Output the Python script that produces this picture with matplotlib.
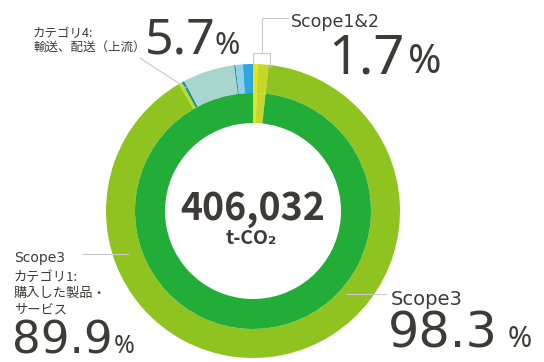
import matplotlib
matplotlib.use("Agg")
import matplotlib.pyplot as plt

plt.rcParams['font.family'] = ['Noto Sans CJK JP', 'DejaVu Sans']

# 内側リング: Scope1, Scope2, Scope3
inner_labels = ["Scope1", "Scope2", "Scope3"]
inner_values = [0.5, 1.2, 98.3]
inner_colors = ["#e2e41c", "#c3d82b", "#22ac38"]

# 外側リング: Scope1, Scope2, Scope3 カテゴリ別（時計回り）
outer_labels = ["Scope1", "Scope2", "カテゴリ1", "その他a", "その他b",
                "カテゴリ4", "その他c", "その他d", "その他e"]
outer_values = [0.5, 1.2, 89.9, 0.35, 0.3, 5.7, 0.15, 0.8, 1.1]
outer_colors = ["#e2e41c", "#c3d82b", "#8fc31f", "#c3d82b", "#129a8c",
                "#a8d6ce", "#129a8c", "#8fd0ef", "#2ea7e0"]

total_text = "406,032"
unit_text = "t-CO₂"
pct_cat4 = "5.7"
pct_scope12 = "1.7"
pct_cat1 = "89.9"
pct_scope3 = "98.3"

W, H = 544, 362
TXT = "#3e3a39"
LINE = "#c9c9c9"
LAT = ['Noto Sans', 'Noto Sans CJK JP']
WIDE = ['DejaVu Sans']

fig = plt.figure(figsize=(W / 100, H / 100), dpi=100)
ax = fig.add_axes([0, 0, 1, 1])


def Y(y):
    return H - y


cx, cy = 253, Y(211)
ax.pie(outer_values, colors=outer_colors, radius=147, center=(cx, cy),
       startangle=90, counterclock=False,
       wedgeprops=dict(width=29, linewidth=0))
ax.pie(inner_values, colors=inner_colors, radius=118, center=(cx, cy),
       startangle=90, counterclock=False,
       wedgeprops=dict(width=30, linewidth=0))

ax.set_xlim(0, W)
ax.set_ylim(0, H)
ax.set_aspect('equal')
ax.axis('off')

# 引き出し線
ax.plot([288, 262, 262], [Y(18), Y(18), Y(53)], color=LINE, lw=0.8)
ax.plot([253, 253, 270, 270], [Y(67), Y(53), Y(53), Y(67)], color=LINE, lw=0.8)
ax.plot([140, 186], [Y(58), Y(88)], color=LINE, lw=0.8)
ax.plot([82, 128], [Y(254), Y(254)], color=LINE, lw=0.8)
ax.plot([346, 386], [Y(294), Y(294)], color=LINE, lw=0.8)

# 中央
ax.text(253, Y(220), total_text, ha='center', va='baseline', fontsize=27,
        fontweight='bold', color=TXT)
ax.text(251, Y(244), unit_text, ha='center', va='baseline', fontsize=14,
        fontweight='bold', color=TXT)

# カテゴリ4
ax.text(33, Y(37), "カテゴリ4:", fontsize=9, color=TXT, va='baseline')
ax.text(33, Y(51), "輸送、配送（上流）", fontsize=9, color=TXT, va='baseline')
ax.text(145, Y(54), pct_cat4, fontsize=36, color=TXT, va='baseline', family=LAT)
ax.text(215, Y(54), "%", fontsize=22, color=TXT, va='baseline', family=LAT)

# Scope1&2
ax.text(291, Y(27), "Scope1&2", fontsize=12.5, color=TXT, va='baseline', family=WIDE)
ax.text(328, Y(73), pct_scope12, fontsize=39, color=TXT, va='baseline', family=LAT)
ax.text(408, Y(73), "%", fontsize=29, color=TXT, va='baseline', family=LAT)

# Scope3 カテゴリ1
ax.text(14, Y(262), "Scope3", fontsize=10, color=TXT, va='baseline', family=WIDE)
for y, s in zip([281, 297, 313], ["カテゴリ1:", "購入した製品・", "サービス"]):
    ax.text(14, Y(y), s, fontsize=9.5, color=TXT, va='baseline')
ax.text(12, Y(353), pct_cat1, fontsize=32.5, color=TXT, va='baseline', family=WIDE)
ax.text(114, Y(353), "%", fontsize=18, color=TXT, va='baseline', family=LAT)

# Scope3
ax.text(391, Y(305), "Scope3", fontsize=14, color=TXT, va='baseline', family=WIDE)
ax.text(388, Y(347), pct_scope3, fontsize=35.5, color=TXT, va='baseline', family=WIDE)
ax.text(508, Y(347), "%", fontsize=21, color=TXT, va='baseline', family=LAT)

fig.savefig("out.png", dpi=100)
